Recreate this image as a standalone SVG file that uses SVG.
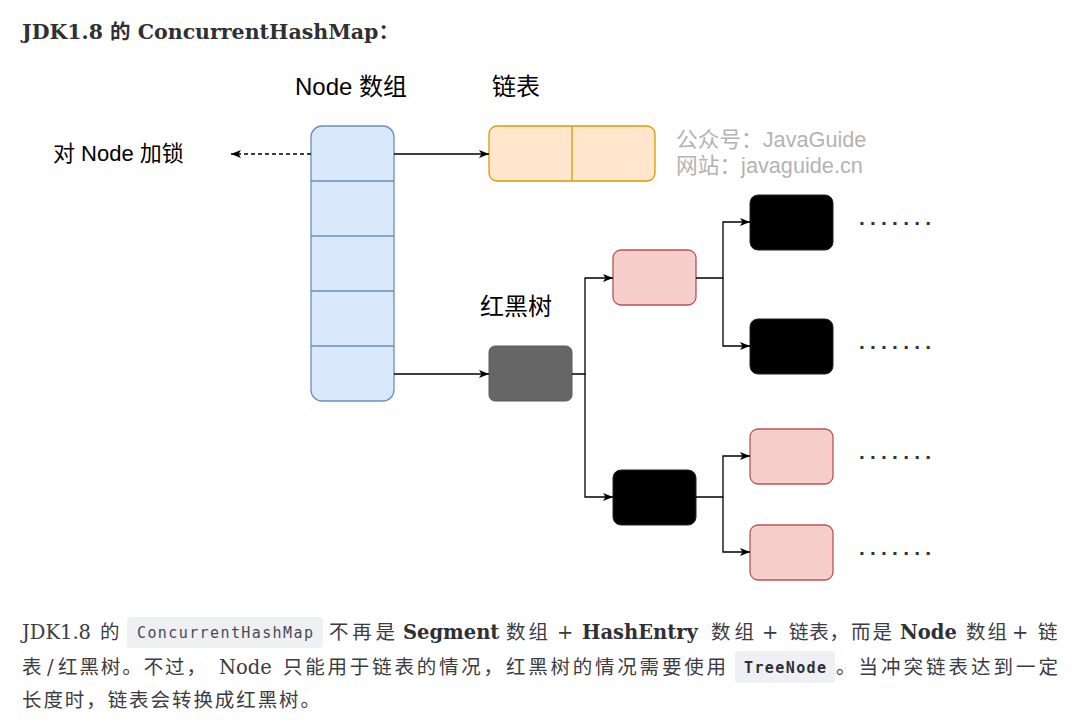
<svg xmlns="http://www.w3.org/2000/svg" width="1077" height="726" viewBox="0 0 1077 726">
<defs>
<style>
.lbl{font-family:"Liberation Sans","Noto Sans CJK SC",sans-serif;font-size:24px;fill:#000}
.lbs{font-size:22px}
.wm{font-family:"Liberation Sans","Noto Sans CJK SC",sans-serif;font-size:21.7px;fill:#b3b3b3}
.dots{font-family:"Liberation Sans",sans-serif;font-size:21px;font-weight:bold;fill:#333;letter-spacing:5.2px}
.title{font-family:"DejaVu Serif","Noto Sans CJK SC",serif;font-size:20.5px;font-weight:bold;fill:#2f2f36}
.body{font-family:"DejaVu Serif","Noto Sans CJK SC",serif;font-size:19.5px;fill:#3c3c43}
.b{font-weight:bold;fill:#2f2f36}
.code{font-family:"DejaVu Sans Mono",monospace;font-size:15px;letter-spacing:1.4px;fill:#4a4a52}
.codeb{font-weight:bold;fill:#2f2f36}
.codebg{fill:#eff0f3}
.arr{fill:#dae8fc;stroke:#6c8ebf;stroke-width:1.3}
.lst{fill:#ffe6cc;stroke:#d79b00;stroke-width:1.3}
.red{fill:#f8cecc;stroke:#b85450;stroke-width:1.3}
.blk{fill:#000;stroke:#222;stroke-width:1}
.gry{fill:#666;stroke:#5a5a5a;stroke-width:1}
.conn{stroke:#000;stroke-width:1.3;fill:none}
</style>
<marker id="ah" viewBox="0 0 10 8" refX="10" refY="4" markerWidth="10" markerHeight="8" orient="auto" markerUnits="userSpaceOnUse">
<path d="M0,0 L10,4 L0,8 L2.5,4 z" fill="#000"/>
</marker>
</defs>
<rect width="1077" height="726" fill="#fff"/>

<text class="title" x="22" y="39">JDK1.8 的 ConcurrentHashMap：</text>

<g id="labels">
<text class="lbl" x="295" y="95">Node 数组</text>
<text class="lbl" x="492" y="95">链表</text>
<text class="lbl lbs" x="53" y="161">对 Node 加锁</text>
<text class="lbl" x="480" y="315">红黑树</text>
</g>

<g id="watermark">
<text class="wm" x="676" y="147">公众号：JavaGuide</text>
<text class="wm" x="676" y="173">网站：javaguide.cn</text>
</g>

<g id="node-array">
<rect class="arr" x="311" y="126" width="83" height="275" rx="11"/>
<path d="M311,181 H394 M311,236 H394 M311,291 H394 M311,346 H394" stroke="#6c8ebf" stroke-width="1.3"/>
</g>

<g id="linked-list">
<rect class="lst" x="489" y="126" width="166" height="55" rx="8"/>
<path d="M572,126 V181" stroke="#d79b00" stroke-width="1.3"/>
</g>

<g id="tree-root"><rect class="gry" x="489" y="346" width="83" height="55" rx="6"/></g>
<g id="red-1"><rect class="red" x="613" y="250" width="83" height="55" rx="8"/></g>
<g id="black-1"><rect class="blk" x="613" y="470" width="83" height="55" rx="8"/></g>
<g id="black-2"><rect class="blk" x="750" y="195" width="83" height="55" rx="8"/></g>
<g id="black-3"><rect class="blk" x="750" y="319" width="83" height="55" rx="8"/></g>
<g id="red-2"><rect class="red" x="750" y="429" width="83" height="55" rx="8"/></g>
<g id="red-3"><rect class="red" x="750" y="525" width="83" height="55" rx="8"/></g>

<g id="dots">
<text class="dots" x="859" y="225">.......</text>
<text class="dots" x="859" y="349">.......</text>
<text class="dots" x="859" y="459">.......</text>
<text class="dots" x="859" y="555">.......</text>
</g>

<g id="connectors">
<path class="conn" d="M311,154 H231" stroke-dasharray="4 3" marker-end="url(#ah)"/>
<path class="conn" d="M394,154 H489" marker-end="url(#ah)"/>
<path class="conn" d="M394,374 H489" marker-end="url(#ah)"/>
<path class="conn" d="M572,374 H585 V278 H613" marker-end="url(#ah)"/>
<path class="conn" d="M585,374 V497 H613" marker-end="url(#ah)"/>
<path class="conn" d="M696,278 H723 V222 H750" marker-end="url(#ah)"/>
<path class="conn" d="M723,278 V346 H750" marker-end="url(#ah)"/>
<path class="conn" d="M696,497 H723 V456 H750" marker-end="url(#ah)"/>
<path class="conn" d="M723,497 V552 H750" marker-end="url(#ah)"/>
</g>

<g id="paragraph">
<rect class="codebg" x="127" y="617" width="196" height="31" rx="4"/>
<rect class="codebg" x="735" y="651" width="100" height="32" rx="4"/>
<text class="body" x="22" y="639">JDK1.8</text>
<text class="body" x="100" y="639">的</text>
<text class="code" x="137" y="638">ConcurrentHashMap</text>
<text class="body" x="329" y="639" textLength="66">不再是</text>
<text class="body b" x="403" y="639">Segment</text>
<text class="body" x="506" y="639" textLength="42">数组</text>
<text class="body" x="557" y="639">+</text>
<text class="body b" x="582" y="639">HashEntry</text>
<text class="body" x="711" y="639" textLength="43">数组</text>
<text class="body" x="762" y="639">+</text>
<text class="body" x="789" y="639" textLength="60">链表，</text>
<text class="body" x="851" y="639" textLength="41">而是</text>
<text class="body b" x="900" y="639">Node</text>
<text class="body" x="966" y="639" textLength="41">数组</text>
<text class="body" x="1012" y="639">+</text>
<text class="body" x="1038" y="639">链</text>

<text class="body" x="22" y="674">表</text>
<text class="body" x="47" y="674">/</text>
<text class="body" x="58" y="674" textLength="148">红黑树。不过，</text>
<text class="body" x="219" y="674">Node</text>
<text class="body" x="283" y="674" textLength="443">只能用于链表的情况，红黑树的情况需要使用</text>
<text class="code codeb" x="744" y="673">TreeNode</text>
<text class="body" x="836" y="674" textLength="222">。当冲突链表达到一定</text>

<text class="body" x="22" y="707" textLength="298">长度时，链表会转换成红黑树。</text>
</g>
</svg>
